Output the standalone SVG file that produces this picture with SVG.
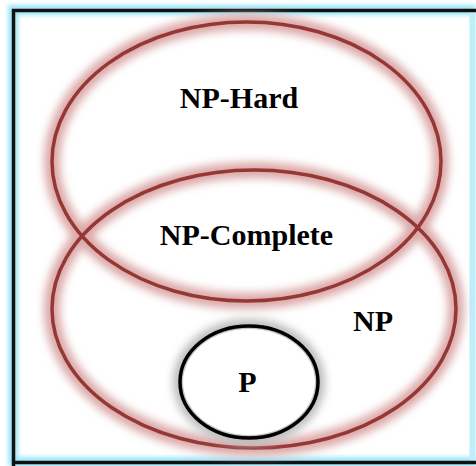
<svg xmlns="http://www.w3.org/2000/svg" width="476" height="466" viewBox="0 0 476 466">
<defs>
<filter id="glow" x="-20%" y="-20%" width="140%" height="140%"><feGaussianBlur stdDeviation="4"/></filter>
<filter id="fglow" x="-5%" y="-5%" width="110%" height="110%"><feGaussianBlur stdDeviation="2"/></filter>
<style>
.lbl{font-family:"Liberation Serif","Times New Roman",serif;font-weight:bold;font-size:30px;fill:#000;text-anchor:middle}
.halo{fill:none;stroke:#dca8a8;stroke-width:16;filter:url(#glow)}
.ring{fill:none;stroke:#953735;stroke-width:3.5}
.ghalo{fill:none;stroke:#bcbcbc;stroke-width:14;filter:url(#glow)}
.pring{fill:none;stroke:#000;stroke-width:3.5}
</style>
</defs>
<rect width="476" height="466" fill="#fff"/>
<g id="frame">
<path d="M13,466 V10 H476 M13,462 H476" fill="none" stroke="#9ce6f8" stroke-width="10" filter="url(#fglow)"/>
<line x1="472.5" y1="12" x2="472.5" y2="460" stroke="#bdeefa" stroke-width="6"/>
<path d="M13.5,466 V10.5 H476 M13,462.5 H476" fill="none" stroke="#111" stroke-width="3.5"/>
</g>
<g id="np-hard">
<ellipse class="halo" cx="246.5" cy="161.5" rx="194.5" ry="139.5"/>
</g>
<g id="np">
<ellipse class="halo" cx="254" cy="309" rx="202" ry="139"/>
<ellipse class="ring" cx="254" cy="309" rx="202" ry="139"/>
<text class="lbl" x="373" y="331">NP</text>
</g>
<g id="np-hard-ring">
<ellipse class="ring" cx="246.5" cy="161.5" rx="194.5" ry="139.5"/>
<text class="lbl" x="239" y="108">NP-Hard</text>
</g>
<g id="np-complete">
<text class="lbl" x="246.5" y="245">NP-Complete</text>
</g>
<g id="p">
<ellipse class="ghalo" cx="249" cy="382" rx="69" ry="56"/>
<ellipse fill="#fff" cx="249" cy="382" rx="66" ry="53"/>
<ellipse class="pring" cx="249" cy="382" rx="69" ry="56"/>
<text class="lbl" x="247.5" y="392">P</text>
</g>
<g id="connectors"/>
</svg>
